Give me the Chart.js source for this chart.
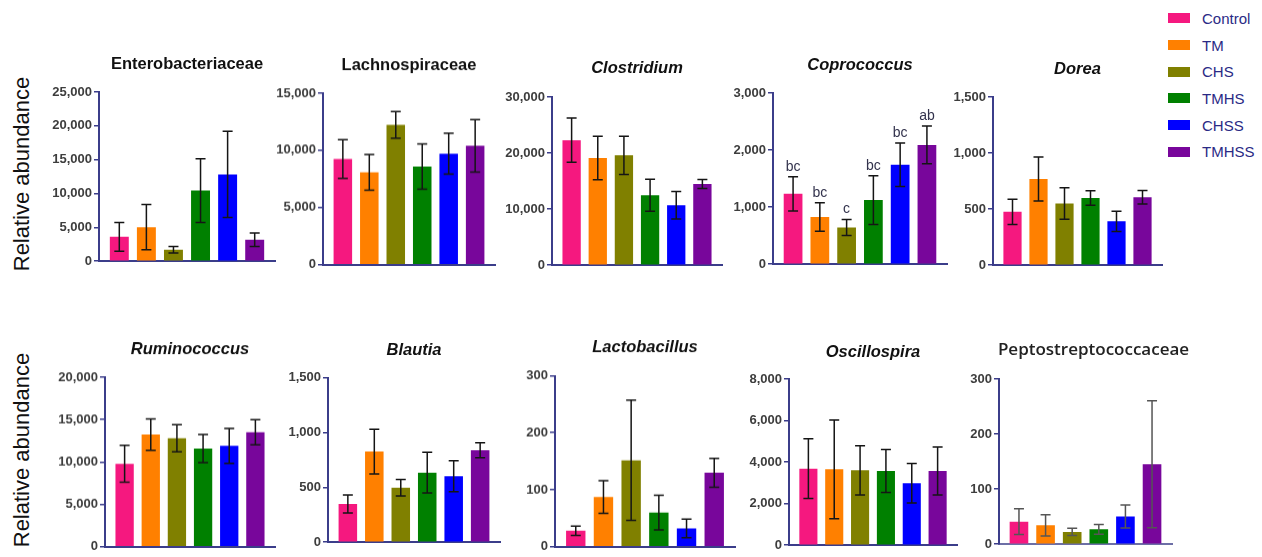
<!DOCTYPE html>
<html>
<head>
<meta charset="utf-8">
<title>Relative abundance by group</title>
<script src="https://cdn.jsdelivr.net/npm/chart.js@4.4.1/dist/chart.umd.min.js"></script>
<style>
  body {
    margin: 0;
    width: 1262px;
    height: 557px;
    background: #fff;
    position: relative;
    overflow: hidden;
    font-family: "Liberation Sans", Arial, sans-serif;
  }
  .panel { position: absolute; }
  .ylab {
    position: absolute;
    width: 220px;
    height: 26px;
    line-height: 26px;
    text-align: center;
    font-size: 22px;
    color: #111;
    white-space: nowrap;
    transform: rotate(-90deg);
  }
  .legend { position: absolute; left: 1168px; top: 5px; }
  .legend div { height: 26.7px; display: flex; align-items: center; }
  .legend span.sw { width: 22px; height: 10px; margin-right: 12px; }
  .legend span.tx { font-size: 15px; color: #2a2a85; }
</style>
</head>
<body>
<div class="ylab" style="left:-88px; top:161px;">Relative abundance</div>
<div class="ylab" style="left:-88px; top:437px;">Relative abundance</div>
<div class="legend" id="legend"></div>

<script>
// ============================
// DATA
// ============================
const groups = ["Control", "TM", "CHS", "TMHS", "CHSS", "TMHSS"];

const enteroMean = [3600, 5020, 1700, 10430, 12820, 3170];
const enteroErr = [2120, 3340, 470, 4720, 6380, 1000];
const enteroTicks = [0, 5000, 10000, 15000, 20000, 25000];

const lachnoMean = [9250, 8090, 12230, 8580, 9710, 10400];
const lachnoErr = [1690, 1560, 1170, 1980, 1790, 2300];
const lachnoTicks = [0, 5000, 10000, 15000];

const clostMean = [22300, 19120, 19590, 12470, 10700, 14470];
const clostErr = [3950, 3890, 3420, 2850, 2440, 800];
const clostTicks = [0, 10000, 20000, 30000];

const coproMean = [1233, 828, 643, 1123, 1743, 2090];
const coproErr = [301, 249, 142, 429, 382, 330];
const coproLetters = ["bc", "bc", "c", "bc", "bc", "ab"];
const coproTicks = [0, 1000, 2000, 3000];

const doreaMean = [476, 768, 550, 600, 391, 606];
const doreaErr = [112, 196, 140, 65, 90, 60];
const doreaTicks = [0, 500, 1000, 1500];

const ruminoMean = [9785, 13230, 12800, 11580, 11900, 13500];
const ruminoErr = [2175, 1860, 1600, 1665, 2055, 1485];
const ruminoTicks = [0, 5000, 10000, 15000, 20000];

const blautiaMean = [348, 825, 495, 633, 600, 837];
const blautiaErr = [83, 203, 75, 186, 141, 69];
const blautiaTicks = [0, 500, 1000, 1500];

const lactoMean = [27.9, 87.2, 151.7, 59.9, 32, 129.7];
const lactoErr = [8.1, 28.8, 105.5, 30.5, 16.3, 25.3];
const lactoTicks = [0, 100, 200, 300];

const oscilloMean = [3683, 3651, 3603, 3571, 2984, 3571];
const oscilloErr = [1437, 2381, 1183, 1032, 952, 1159];
const oscilloTicks = [0, 2000, 4000, 6000, 8000];

const peptoMean = [40.8, 34.2, 22.2, 27, 50.4, 145.2];
const peptoErr = [23.4, 19.5, 6.6, 9, 21, 115.5];
const peptoTicks = [0, 100, 200, 300];

// ============================
// STYLE
// ============================
const groupColors = ["#F5187F", "#FF8000", "#808000", "#008000", "#0000FF", "#78069B"];
const axisColor = "#3b3d8a";
const tickFont = { family: "Liberation Sans", size: 13, weight: "bold" };

// ============================
// PANELS (layout + which data)
// ============================
const panels = [
  { title: "Enterobacteriaceae", italic: false, mean: enteroMean, err: enteroErr, ticks: enteroTicks, ax: 99, top: 92, bottom: 263, right: 275, titleY: 64 },
  { title: "Lachnospiraceae", italic: false, mean: lachnoMean, err: lachnoErr, ticks: lachnoTicks, ax: 323, top: 93, bottom: 265.5, right: 495, titleY: 65 },
  { title: "Clostridium", italic: true, mean: clostMean, err: clostErr, ticks: clostTicks, ax: 552, top: 97, bottom: 267, right: 722, titleY: 68 },
  { title: "Coprococcus", italic: true, mean: coproMean, err: coproErr, ticks: coproTicks, letters: coproLetters, ax: 773, top: 93, bottom: 266, right: 947, titleY: 65 },
  { title: "Dorea", italic: true, mean: doreaMean, err: doreaErr, ticks: doreaTicks, ax: 993, top: 97, bottom: 267, right: 1162, titleY: 69 },
  { title: "Ruminococcus", italic: true, mean: ruminoMean, err: ruminoErr, ticks: ruminoTicks, ax: 105, top: 377, bottom: 547.5, right: 275, titleY: 349 },
  { title: "Blautia", italic: true, mean: blautiaMean, err: blautiaErr, ticks: blautiaTicks, ax: 328, top: 377.5, bottom: 544, right: 500, titleY: 350 },
  { title: "Lactobacillus", italic: true, mean: lactoMean, err: lactoErr, ticks: lactoTicks, ax: 555, top: 375.5, bottom: 547.5, right: 735, titleY: 347 },
  { title: "Oscillospira", italic: true, mean: oscilloMean, err: oscilloErr, ticks: oscilloTicks, ax: 789, top: 379, bottom: 547, right: 957, titleY: 352 },
  { title: "Peptostreptococcaceae", italic: false, alt: true, mean: peptoMean, err: peptoErr, ticks: peptoTicks, ax: 999, top: 379, bottom: 546, right: 1172, titleY: 350, titleDx: 8, padRight: 30 }
];

// ============================
// LEGEND (html)
// ============================
const legendEl = document.getElementById("legend");
groups.forEach((g, i) => {
  const row = document.createElement("div");
  row.innerHTML = '<span class="sw" style="background:' + groupColors[i] + '"></span><span class="tx">' + g + "</span>";
  legendEl.appendChild(row);
});

// ============================
// PLUGIN: titles, error bars, letters
// ============================
const panelExtras = {
  id: "panelExtras",
  afterDatasetsDraw(chart, args, opts) {
    const ctx = chart.ctx;
    const ds = chart.data.datasets[0];
    const meta = chart.getDatasetMeta(0);
    const y = chart.scales.y;
    ctx.save();
    ctx.strokeStyle = opts.errColor;
    ctx.lineWidth = 1.5;
    meta.data.forEach((bar, i) => {
      const m = ds.data[i].y;
      const e = ds.errors[i];
      const yt = y.getPixelForValue(m + e);
      const yb = y.getPixelForValue(m - e);
      ctx.beginPath();
      ctx.moveTo(bar.x, yt);
      ctx.lineTo(bar.x, yb);
      ctx.moveTo(bar.x - 5, yt);
      ctx.lineTo(bar.x + 5, yt);
      ctx.moveTo(bar.x - 5, yb);
      ctx.lineTo(bar.x + 5, yb);
      ctx.stroke();
      if (ds.letters) {
        ctx.fillStyle = "#33334d";
        ctx.font = "14px 'Liberation Sans'";
        ctx.textAlign = "center";
        ctx.textBaseline = "alphabetic";
        ctx.fillText(ds.letters[i], bar.x, yt - 6);
      }
    });
    // panel title
    const area = chart.chartArea;
    ctx.fillStyle = opts.titleColor;
    ctx.font = opts.titleFont;
    ctx.textAlign = "center";
    ctx.textBaseline = "middle";
    ctx.fillText(opts.text, (area.left + area.right) / 2 + opts.dx, area.top - opts.dy);
    ctx.restore();
  }
};

// ============================
// BUILD CHARTS
// ============================
panels.forEach((p) => {
  const W = 70;
  const padRight = p.padRight || 6;
  const canvasTop = p.titleY - 20;
  const div = document.createElement("div");
  div.className = "panel";
  div.style.left = (p.ax - W) + "px";
  div.style.top = canvasTop + "px";
  div.style.width = (p.right - p.ax + W + padRight) + "px";
  div.style.height = (p.bottom - canvasTop + 8) + "px";
  const canvas = document.createElement("canvas");
  div.appendChild(canvas);
  document.body.appendChild(div);

  const yMax = p.ticks[p.ticks.length - 1];
  const yStep = p.ticks[1] - p.ticks[0];
  const titleFont = p.alt
    ? "600 17px 'Open Sans'"
    : (p.italic ? "italic " : "") + "bold 16.5px 'Liberation Sans'";

  new Chart(canvas, {
    type: "bar",
    data: {
      labels: groups,
      datasets: [
        {
          label: p.title,
          data: p.mean.map((v, i) => ({ x: i + 1, y: v })),
          backgroundColor: groupColors,
          categoryPercentage: 1,
          barPercentage: 0.7,
          errors: p.err,
          letters: p.letters
        }
      ]
    },
    options: {
      responsive: true,
      maintainAspectRatio: false,
      animation: false,
      events: [],
      layout: { padding: { top: p.top - canvasTop, left: 0, right: padRight, bottom: 0 } },
      plugins: {
        legend: { display: false },
        tooltip: { enabled: false },
        title: { display: false },
        panelExtras: {
          text: p.title,
          titleFont: titleFont,
          titleColor: p.alt ? "#222" : "#111",
          dx: p.titleDx || 0,
          dy: p.top - p.titleY,
          errColor: p.alt ? "#555" : "#151515"
        }
      },
      scales: {
        x: {
          type: "linear",
          offset: false,
          min: 0.25,
          max: 6.75,
          grid: { display: false },
          ticks: { display: false },
          border: { color: p.alt ? "#6d6fa6" : axisColor, width: 2 },
          afterFit: (s) => { s.height = 8; }
        },
        y: {
          min: 0,
          max: yMax,
          ticks: {
            stepSize: yStep,
            color: "#3d3d3d",
            font: tickFont,
            padding: 2,
            callback: (v) => v.toLocaleString("en-US")
          },
          grid: { drawOnChartArea: false, drawTicks: true, tickLength: 5, color: axisColor, lineWidth: 1.5 },
          border: { color: axisColor, width: 2 },
          afterFit: (s) => { s.width = W; }
        }
      }
    },
    plugins: [panelExtras]
  });
});
</script>
</body>
</html>
